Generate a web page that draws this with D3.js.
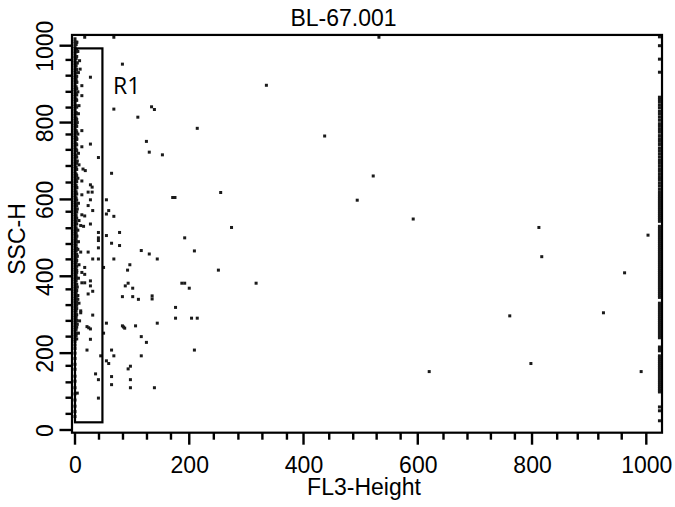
<!DOCTYPE html>
<html>
<head>
<meta charset="utf-8">
<script src="https://cdn.jsdelivr.net/npm/d3@7/dist/d3.min.js"></script>
<style>
  html, body { margin: 0; padding: 0; background: #fff; }
  svg { display: block; }
  text { font-family: "Liberation Sans", Arial, Helvetica, sans-serif; fill: #000; }
</style>
</head>
<body>
<svg id="chart" width="675" height="507"></svg>
<script>
// ---------- data ----------
const title = "BL-67.001";
const xLabel = "FL3-Height";
const yLabel = "SSC-H";
const gateName = "R1";
const gateFL3 = [0, 48];
const gateSSC = [20, 993];

const xTicks = [0, 200, 400, 600, 800, 1000];
const yTicks = [0, 200, 400, 600, 800, 1000];
const xMinorTicks = [42, 84, 126, 168, 243, 286, 328, 371, 445, 487, 528, 570, 645, 687, 728, 770, 844, 880, 916, 957];
const yMinorTicks = [42, 84, 124, 167, 243, 284, 325, 366, 444, 484, 525, 568, 644, 687, 729, 769, 839, 880, 922, 963];

// scattered events (FL3-Height, SSC-H)
const fl3 = [17, 68, 532, 83, 8, 9, 27, 12, 12, 7, 68, 134, 139, 110, 12, 27, 12, 125, 130, 153, 41, 14, 18, 64, 12, 27, 30, 23, 30, 12, 27, 55, 171, 175, 23, 31, 59, 55, 68, 12, 17, 27, 10, 15, 41, 78, 41, 41, 55, 64, 78, 41, 10, 23, 116, 130, 31, 41, 68, 144, 192, 96, 92, 50, 17, 12, 17, 27, 27, 12, 17, 93, 88, 101, 187, 192, 31, 23, 83, 101, 111, 135, 135, 5, 7, 176, 176, 10, 10, 31, 8, 21, 27, 24, 55, 83, 87, 85, 106, 144, 50, 6, 116, 27, 125, 21, 64, 68, 45, 116, 55, 59, 97, 93, 36, 64, 97, 41, 64, 97, 139, 4, 41, 214, 437, 255, 274, 209, 251, 200, 317, 204, 214, 209, 335, 522, 494, 592, 812, 1003, 817, 962, 761, 925, 798, 620, 991];
const ssc = [1022, 1022, 1022, 952, 961, 939, 918, 896, 870, 844, 835, 841, 834, 814, 779, 744, 737, 751, 723, 716, 709, 679, 675, 668, 648, 638, 632, 619, 619, 612, 599, 599, 605, 605, 584, 571, 571, 562, 556, 560, 557, 536, 532, 530, 514, 514, 500, 493, 506, 486, 480, 474, 463, 463, 467, 458, 445, 445, 445, 445, 500, 430, 416, 423, 423, 410, 405, 388, 375, 383, 383, 382, 375, 369, 382, 382, 361, 354, 347, 347, 340, 349, 341, 340, 330, 319, 291, 310, 305, 299, 284, 269, 263, 266, 278, 271, 265, 268, 271, 278, 252, 252, 243, 236, 228, 208, 208, 193, 193, 193, 180, 173, 166, 159, 146, 139, 131, 131, 118, 110, 110, 96, 83, 785, 765, 618, 527, 466, 416, 369, 382, 291, 291, 208, 897, 661, 598, 549, 527, 507, 451, 409, 297, 305, 173, 152, 152];

// events piled up on the low FL3 edge (FL3 = 0)
const lowEdgeSSC = [1018, 1011, 1005, 998, 993, 986, 980, 973, 968, 961, 955, 949, 942, 936, 930, 923, 917, 911, 905, 898, 892, 886, 880, 873, 867, 861, 855, 848, 842, 836, 830, 823, 817, 811, 805, 798, 792, 786, 780, 773, 767, 761, 755, 748, 742, 736, 730, 723, 717, 711, 705, 698, 692, 686, 680, 673, 667, 661, 655, 648, 642, 636, 630, 623, 617, 611, 605, 598, 592, 586, 580, 573, 567, 561, 555, 548, 542, 536, 530, 523, 517, 511, 505, 498, 492, 486, 480, 473, 467, 461, 455, 448, 442, 436, 430, 423, 417, 411, 405, 398, 392, 386, 380, 373, 367, 361, 355, 348, 342, 336, 330, 323, 317, 311, 305, 298, 292, 286, 280, 273, 267, 261, 255, 248, 242, 236, 230, 221, 212, 200, 186, 171, 158, 140, 127, 110, 94, 78, 62, 48, 35];
// piles just off the edge (FL3 = 2 and FL3 = 3)
const edge2SSC = [1003, 984, 966, 947, 929, 912, 893, 876, 861, 844, 826, 812, 795, 779, 762, 745, 731, 714, 699, 683, 666, 651, 636, 620, 604, 589, 572, 558, 543, 526, 512, 496, 481, 466, 449, 434, 419, 402, 388, 371, 356, 340, 324, 309, 293, 277, 262, 246];
const edge3SSC = [1009, 990, 972, 955, 938, 920, 905, 888, 872, 858, 840, 823, 808, 790, 775, 758, 742, 727, 710, 694, 678, 662, 646, 631, 614, 598, 583, 567, 551, 536, 520, 504, 489, 473, 457, 441, 426, 410, 395, 379, 363, 348, 332, 316, 300, 285, 268, 252, 237];
// events just next to the low edge
const nearEdgeFL3 = [3, 5, 4, 6, 3, 5, 2, 6, 4, 5, 3, 6, 4, 7, 5, 3, 6, 4, 7, 5, 3, 6, 5, 4, 7, 3, 6, 4, 5, 3, 2, 4];
const nearEdgeSSC = [1009, 985, 955, 930, 905, 880, 858, 823, 800, 770, 756, 720, 700, 690, 655, 630, 590, 575, 545, 520, 505, 490, 470, 452, 430, 415, 395, 372, 350, 325, 300, 275];
// events piled up on the high FL3 edge (FL3 = 1023)
const highEdgeFL3 = 1023;
const highEdgeSSC = [1023, 1000, 965, 931, 866, 860, 853, 845, 838, 829, 822, 814, 806, 797, 790, 782, 775, 766, 758, 751, 743, 734, 727, 719, 711, 703, 696, 688, 680, 673, 665, 657, 650, 642, 635, 627, 620, 614, 608, 603, 598, 593, 588, 583, 578, 573, 568, 563, 558, 553, 548, 543, 530, 525, 520, 515, 510, 505, 500, 495, 490, 485, 480, 475, 470, 465, 460, 455, 450, 445, 440, 435, 430, 425, 420, 415, 410, 405, 400, 395, 390, 385, 380, 375, 370, 365, 360, 355, 350, 345, 330, 325, 320, 315, 310, 305, 300, 295, 290, 285, 280, 275, 270, 265, 260, 255, 250, 245, 240, 216, 211, 206, 193, 188, 183, 178, 173, 168, 163, 158, 153, 148, 143, 138, 133, 128, 123, 118, 113, 108, 103, 99, 60, 50, 24];

// ---------- build ----------
const events = [];
fl3.forEach((v, i) => events.push([v, ssc[i]]));
lowEdgeSSC.forEach(v => events.push([0, v]));
edge2SSC.forEach(v => events.push([2, v]));
edge3SSC.forEach(v => events.push([3, v]));
nearEdgeFL3.forEach((v, i) => events.push([v, nearEdgeSSC[i]]));
highEdgeSSC.forEach(v => events.push([highEdgeFL3, v]));

const svg = d3.select("#chart");
const x = d3.scaleLinear().domain([0, 1000]).range([75, 646.3]);
const y = d3.scaleLinear().domain([0, 1000]).range([430, 45.7]);

const frameL = x(-5.25), frameR = x(1027.5), frameT = y(1028), frameB = y(-7);
const dot = 3;

// points (small squares)
svg.append("g").selectAll("rect").data(events).join("rect")
  .attr("x", d => x(d[0]) - dot / 2)
  .attr("y", d => y(d[1]) - dot / 2)
  .attr("width", dot).attr("height", dot)
  .attr("fill", "#1a1a1a");

// frame
svg.append("rect")
  .attr("x", frameL).attr("y", frameT)
  .attr("width", frameR - frameL).attr("height", frameB - frameT)
  .attr("fill", "none").attr("stroke", "#000").attr("stroke-width", 2.2);

// gate R1
svg.append("rect")
  .attr("x", x(gateFL3[0])).attr("y", y(gateSSC[1]))
  .attr("width", x(gateFL3[1]) - x(gateFL3[0]))
  .attr("height", y(gateSSC[0]) - y(gateSSC[1]))
  .attr("fill", "none").attr("stroke", "#000").attr("stroke-width", 2.2);
svg.append("text")
  .attr("x", 113).attr("y", 94)
  .style("font-family", "'Open Sans', 'Liberation Sans', Arial, sans-serif")
  .style("font-size", "23px")
  .text(gateName);

// tick marks (filled bars positioned by the scales)
const tw = 2.4;
const tickG = svg.append("g").attr("fill", "#000");
tickG.selectAll("rect.xmin").data(xMinorTicks).join("rect").attr("class", "xmin")
  .attr("x", d => x(d) - tw / 2).attr("y", frameB).attr("width", tw).attr("height", 7);
tickG.selectAll("rect.xmaj").data(xTicks).join("rect").attr("class", "xmaj")
  .attr("x", d => x(d) - tw / 2).attr("y", frameB).attr("width", tw).attr("height", 12);
tickG.selectAll("rect.ymin").data(yMinorTicks).join("rect").attr("class", "ymin")
  .attr("y", d => y(d) - tw / 2).attr("x", frameL - 6.5).attr("height", tw).attr("width", 6.5);
tickG.selectAll("rect.ymaj").data(yTicks).join("rect").attr("class", "ymaj")
  .attr("y", d => y(d) - tw / 2).attr("x", frameL - 12.5).attr("height", tw).attr("width", 12.5);

// axis labels via d3 axes
const gx = svg.append("g").attr("transform", `translate(0,${frameB})`);
gx.call(d3.axisBottom(x).tickValues(xTicks).tickSize(0).tickFormat(d3.format("d")));
gx.select(".domain").remove();
gx.selectAll(".tick line").remove();
gx.selectAll("text").attr("y", 40).attr("dy", 0)
  .style("font-size", "23px").style("font-family", "'Liberation Sans', Arial, sans-serif");

const gy = svg.append("g").attr("transform", `translate(${frameL},0)`);
gy.call(d3.axisLeft(y).tickValues(yTicks).tickSize(0).tickFormat(d3.format("d")));
gy.select(".domain").remove();
gy.selectAll(".tick line").remove();
gy.selectAll("text")
  .attr("transform", "rotate(-90)")
  .attr("x", 0).attr("y", -18.7).attr("dy", 0)
  .attr("text-anchor", "middle")
  .style("font-size", "23px").style("font-family", "'Liberation Sans', Arial, sans-serif");

// titles
svg.append("text").attr("x", 343.5).attr("y", 26).attr("text-anchor", "middle")
  .style("font-size", "23px").text(title);
svg.append("text").attr("x", 364).attr("y", 495).attr("text-anchor", "middle")
  .style("font-size", "23px").text(xLabel);
svg.append("text").attr("transform", "translate(25,239) rotate(-90)").attr("text-anchor", "middle")
  .style("font-size", "23px").text(yLabel);
</script>
</body>
</html>
